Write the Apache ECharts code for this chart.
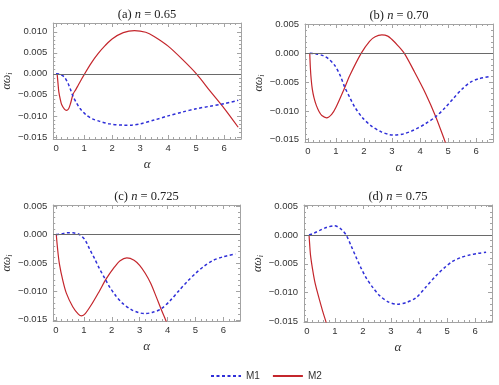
<!DOCTYPE html>
<html>
<head>
<meta charset="utf-8">
<script src="https://cdn.jsdelivr.net/npm/echarts@6/dist/echarts.min.js"></script>
<style>
  html, body { margin: 0; padding: 0; background: #fff; }
  #chart { width: 499px; height: 385px; }
</style>
</head>
<body>
<div id="chart"></div>
<script>
  // tick labels
  var xTicks = [0, 1, 2, 3, 4, 5, 6];
  var yTicksA = [-0.015, -0.010, -0.005, 0, 0.005, 0.010];
  var yTicksB = [-0.015, -0.010, -0.005, 0, 0.005];

  // panel titles (n values)
  var nValues = ['0.65', '0.70', '0.725', '0.75'];
  var panelTags = ['(a)', '(b)', '(c)', '(d)'];

  // (a) n = 0.65
  var m1A = [[0,0],[0.15,-0.0001],[0.3,-0.0008],[0.43,-0.0023],[0.52,-0.0038],[0.61,-0.0054],[0.72,-0.0068],[0.85,-0.0082],[1.08,-0.0098],[1.3,-0.0107],[1.56,-0.0113],[1.9,-0.0119],[2.4,-0.0122],[2.7,-0.0122],[3.0,-0.0119],[3.5,-0.0110],[4.0,-0.0100],[4.5,-0.0091],[5.0,-0.0083],[5.5,-0.0077],[5.86,-0.0073],[6.0,-0.0071],[6.5,-0.0063]];
  var m2A = [[0.04,0],[0.07,-0.0022],[0.1,-0.0043],[0.15,-0.0060],[0.2,-0.0073],[0.3,-0.0084],[0.37,-0.0087],[0.45,-0.0083],[0.52,-0.0070],[0.61,-0.0048],[0.7,-0.0038],[0.8,-0.0026],[0.9,-0.0014],[1.02,0],[1.25,0.0025],[1.5,0.0048],[1.75,0.0067],[2.0,0.0083],[2.4,0.0098],[2.8,0.0103],[3.2,0.0099],[3.5,0.0089],[4.0,0.0066],[4.5,0.0035],[5.01,0],[5.5,-0.0041],[6.0,-0.0082],[6.5,-0.0127]];

  // (b) n = 0.70
  var m1B = [[0.07,0],[0.3,-0.0001],[0.55,-0.0004],[0.75,-0.0010],[0.96,-0.0021],[1.15,-0.0038],[1.31,-0.0058],[1.5,-0.0077],[1.67,-0.0093],[1.95,-0.0112],[2.26,-0.0126],[2.6,-0.0136],[2.9,-0.0141],[3.1,-0.0142],[3.4,-0.0140],[3.7,-0.0135],[3.91,-0.0130],[4.2,-0.0122],[4.56,-0.0110],[4.9,-0.0094],[5.21,-0.0077],[5.5,-0.0062],[5.8,-0.0050],[6.1,-0.0044],[6.5,-0.0040]];
  var m2B = [[0.07,0],[0.09,-0.0024],[0.12,-0.0045],[0.16,-0.0062],[0.22,-0.0077],[0.3,-0.0090],[0.4,-0.0101],[0.5,-0.0108],[0.67,-0.0112],[0.85,-0.0106],[1.0,-0.0094],[1.31,-0.0060],[1.5,-0.0038],[1.9,0],[2.2,0.0021],[2.4,0.0029],[2.64,0.0032],[2.85,0.0030],[3.0,0.0024],[3.2,0.0014],[3.44,0],[3.8,-0.0032],[4.2,-0.0070],[4.56,-0.0110],[4.92,-0.0157],[5.0,-0.0167]];

  // (c) n = 0.725
  var m1C = [[0,0],[0.2,0.0001],[0.4,0.0003],[0.61,0.0003],[0.8,0.0001],[0.9,-0.0002],[1.05,-0.0010],[1.2,-0.0025],[1.38,-0.0042],[1.56,-0.0060],[1.75,-0.0077],[1.92,-0.0092],[2.15,-0.0108],[2.39,-0.0121],[2.7,-0.0132],[2.95,-0.0137],[3.17,-0.0139],[3.45,-0.0137],[3.76,-0.0131],[4.1,-0.0116],[4.42,-0.0098],[4.72,-0.0082],[5.01,-0.0068],[5.3,-0.0056],[5.61,-0.0046],[6.0,-0.0039],[6.44,-0.0034]];
  var m2C = [[0.01,0],[0.05,-0.0022],[0.12,-0.0051],[0.25,-0.0082],[0.37,-0.0103],[0.6,-0.0127],[0.8,-0.0140],[0.92,-0.0143],[1.05,-0.0139],[1.3,-0.0121],[1.55,-0.0100],[1.8,-0.0078],[2.1,-0.0057],[2.3,-0.0046],[2.54,-0.0041],[2.8,-0.0045],[3.0,-0.0054],[3.2,-0.0068],[3.4,-0.0086],[3.6,-0.0110],[3.76,-0.0130],[3.94,-0.0151],[4.0,-0.0160]];

  // (d) n = 0.75
  var m1D = [[0.08,0],[0.25,0.0003],[0.46,0.0008],[0.7,0.0013],[0.99,0.0016],[1.2,0.0011],[1.4,0],[1.58,-0.0019],[1.76,-0.0039],[1.93,-0.0057],[2.11,-0.0074],[2.35,-0.0091],[2.59,-0.0105],[2.9,-0.0116],[3.22,-0.0120],[3.55,-0.0117],[3.89,-0.0109],[4.25,-0.0090],[4.6,-0.0071],[4.9,-0.0057],[5.19,-0.0046],[5.5,-0.0039],[5.78,-0.0035],[6.1,-0.0032],[6.39,-0.0030]];
  var m2D = [[0.08,0],[0.1,-0.0015],[0.13,-0.0034],[0.2,-0.0058],[0.28,-0.0080],[0.37,-0.0098],[0.46,-0.0114],[0.57,-0.0133],[0.69,-0.0152],[0.75,-0.0162]];

  var m1List = [m1A, m1B, m1C, m1D];
  var m2List = [m2A, m2B, m2C, m2D];

  // layout of the four frames (px)
  var boxes = [
    {left: 53, top: 23, width: 188, height: 116, yMin: -0.0155, yMax: 0.0121, yTicks: yTicksA},
    {left: 305, top: 24, width: 188, height: 118, yMin: -0.0154, yMax: 0.0051, yTicks: yTicksB},
    {left: 53, top: 205, width: 187, height: 116, yMin: -0.0152, yMax: 0.0052, yTicks: yTicksB},
    {left: 304, top: 205, width: 188, height: 117, yMin: -0.0151, yMax: 0.0052, yTicks: yTicksB}
  ];
  var xMin = -0.1, xMax = 6.6;

  var frameColor = '#a3a3a3';
  var labelFont = {fontSize: 9.5, color: '#333', fontFamily: 'Liberation Sans, Arial, sans-serif'};
  var serif = 'Liberation Serif, Times New Roman, serif';

  function minorValues(from, to, step, majors) {
    var out = [];
    var n = Math.floor((to - from) / step + 1e-6);
    for (var i = 0; i <= n; i++) {
      var v = +(from + i * step).toFixed(6);
      var isMajor = majors.some(function (m) { return Math.abs(m - v) < 1e-9; });
      if (!isMajor) out.push(v);
    }
    return out;
  }

  function fmtY(v) {
    if (Math.abs(v) < 1e-12) return '0.000';
    return (v < 0 ? '\u2212' : '') + Math.abs(v).toFixed(3);
  }

  var grids = [], xAxes = [], yAxes = [], series = [], titles = [];

  boxes.forEach(function (b, p) {
    grids.push({left: b.left, top: b.top, width: b.width, height: b.height, containLabel: false});

    var xMinor = minorValues(0, 6.6, 0.2, xTicks);
    var yMinor = minorValues(-0.015, b.yMax, 0.001, b.yTicks);

    // x axes: bottom major, bottom minor, top major, top minor
    [['bottom', true, xTicks, 4], ['bottom', false, xMinor, 2], ['top', true, xTicks, 4], ['top', false, xMinor, 2]].forEach(function (c, k) {
      xAxes.push({
        type: 'value', gridIndex: p, position: c[0], min: xMin, max: xMax,
        name: k === 0 ? 'α' : '',
        nameLocation: 'middle', nameGap: 19,
        nameTextStyle: {fontFamily: serif, fontStyle: 'italic', fontSize: 13, color: '#333'},
        axisLine: {show: c[1], onZero: false, lineStyle: {color: frameColor, width: 1}},
        axisTick: {show: true, inside: true, length: c[3], customValues: c[2], lineStyle: {color: frameColor}},
        axisLabel: {show: k === 0, customValues: xTicks, margin: 4, formatter: function (v) { return String(v); }, fontSize: labelFont.fontSize, color: labelFont.color, fontFamily: labelFont.fontFamily},
        splitLine: {show: false}
      });
    });

    // y axes: left major, left minor, right major, right minor
    [['left', true, b.yTicks, 4], ['left', false, yMinor, 2], ['right', true, b.yTicks, 4], ['right', false, yMinor, 2]].forEach(function (c, k) {
      yAxes.push({
        type: 'value', gridIndex: p, position: c[0], min: b.yMin, max: b.yMax,
        name: k === 0 ? '{a|αω}{s|i}' : '',
        nameLocation: 'middle', nameGap: 38, nameRotate: 90,
        nameTextStyle: {
          fontFamily: serif, fontStyle: 'italic', fontSize: 12, color: '#333',
          rich: {
            a: {fontFamily: serif, fontStyle: 'italic', fontSize: 12, color: '#333'},
            s: {fontFamily: serif, fontStyle: 'italic', fontSize: 8, color: '#333', padding: [6, 0, 0, 0]}
          }
        },
        axisLine: {show: c[1], onZero: false, lineStyle: {color: frameColor, width: 1}},
        axisTick: {show: true, inside: true, length: c[3], customValues: c[2], lineStyle: {color: frameColor}},
        axisLabel: {show: k === 0, customValues: b.yTicks, margin: 6, formatter: fmtY, fontSize: labelFont.fontSize, color: labelFont.color, fontFamily: labelFont.fontFamily},
        splitLine: {show: false}
      });
    });

    titles.push({
      text: '{t|' + panelTags[p] + ' }{n|n}{t| = ' + nValues[p] + '}',
      left: b.left + b.width / 2, top: b.top - 15, textAlign: 'center', padding: 0,
      textStyle: {
        fontWeight: 'normal',
        rich: {
          t: {fontFamily: serif, fontWeight: 'normal', fontSize: 12.5, color: '#222'},
          n: {fontFamily: serif, fontStyle: 'italic', fontWeight: 'normal', fontSize: 12.5, color: '#222'}
        }
      }
    });

    series.push({
      name: 'M2', type: 'line', xAxisIndex: p * 4, yAxisIndex: p * 4,
      data: m2List[p], symbol: 'none', smooth: 0.3, clip: true,
      lineStyle: {color: '#c4262c', width: 1.2},
      itemStyle: {color: '#c4262c'},
      markLine: {
        silent: true, symbol: 'none', label: {show: false},
        lineStyle: {color: '#6a6a6a', width: 1, type: 'solid'},
        data: [{yAxis: 0}], animation: false
      },
      z: 3
    });
    series.push({
      name: 'M1', type: 'line', xAxisIndex: p * 4, yAxisIndex: p * 4,
      data: m1List[p], symbol: 'none', smooth: 0.3, clip: true,
      lineStyle: {color: '#2f2fd8', width: 1.5, type: [3, 2.5]},
      itemStyle: {color: '#2f2fd8'},
      z: 4
    });
  });

  var chart = echarts.init(document.getElementById('chart'), null, {renderer: 'canvas'});
  chart.setOption({
    animation: false,
    backgroundColor: '#fff',
    title: titles,
    legend: {
      data: ['M1', 'M2'], left: 205, top: 366,
      itemWidth: 30, itemHeight: 10, itemGap: 12,
      itemStyle: {opacity: 0},
      lineStyle: {width: 2},
      textStyle: {fontSize: 10, color: '#333', fontFamily: 'Liberation Sans, Arial, sans-serif'}
    },
    grid: grids,
    xAxis: xAxes,
    yAxis: yAxes,
    series: series
  });
</script>
</body>
</html>
